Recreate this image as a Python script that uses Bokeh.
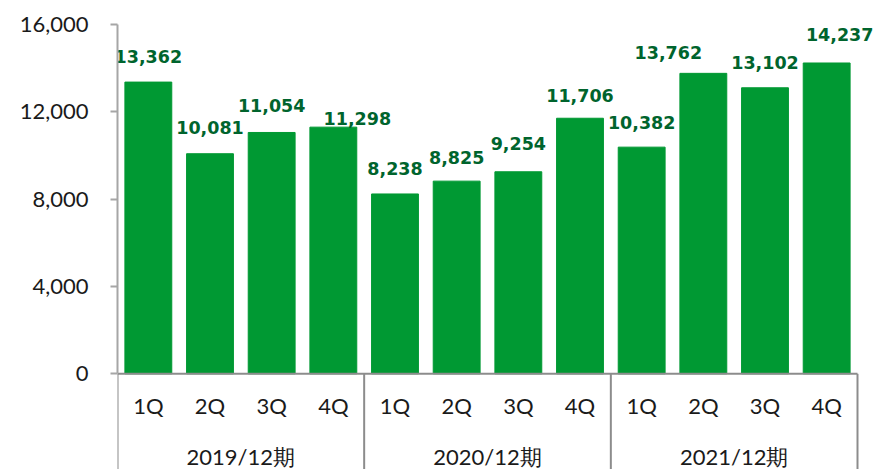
from bokeh.plotting import figure
from bokeh.models import Range1d, FixedTicker, ColumnDataSource, NumeralTickFormatter
from bokeh.core.properties import value
from bokeh.embed import file_html
from bokeh.resources import INLINE

# ---- data ----
years = ["2019/12期", "2020/12期", "2021/12期"]
quarters = ["1Q", "2Q", "3Q", "4Q"]
values = [13362, 10081, 11054, 11298,
          8238, 8825, 9254, 11706,
          10382, 13762, 13102, 14237]
y_ticks = [0, 4000, 8000, 12000, 16000]

# label nudges in screen pixels (styling, kept apart from data)
label_dx = [0, 0, 0, 24, 0, 0, 0, 0, 0, -35, 0, 13]
label_dy = [-26, -26, -27, -9, -25, -24, -28, -23, -25, -21, -25, -28]

# ---- layout ----
W, H = 877, 469
left, top = 117, 24
px_per_unit_y = 349.3 / 16000
frame_h = H - top
y_end = 16000
y_start = y_end - frame_h / px_per_unit_y
n = len(values)
px_per_cat = 740 / n
x_end = (W - left) / px_per_cat

xs = [i + 0.5 for i in range(n)]
qlabels = [quarters[i % len(quarters)] for i in range(n)]
labels = ["{:,}".format(v) for v in values]

src = ColumnDataSource(dict(x=xs, top=values, lab=labels, q=qlabels,
                            dx=label_dx, dy=label_dy))

p = figure(width=W, height=H, output_backend="svg", toolbar_location=None,
           x_range=Range1d(0, x_end), y_range=Range1d(y_start, y_end),
           x_axis_location=None, min_border_left=left, min_border_top=top,
           min_border_right=0, min_border_bottom=0)
p.outline_line_color = None
p.xgrid.visible = False
p.ygrid.visible = False
p.background_fill_color = "white"
p.border_fill_color = "white"

p.vbar(x="x", top="top", bottom=0, width=0.76, source=src,
       fill_color="#009933", line_color="#009933")

p.text(x="x", y="top", text="lab", source=src, x_offset="dx", y_offset="dy",
       text_align="center", text_baseline="middle",
       text_font=value("DejaVu Sans"), text_font_style="bold",
       text_font_size="17.5px", text_color="#00642d")

# category axis drawn as a box
box_color = "#8c8c8c"
p.segment(x0=[0], y0=[0], x1=[n], y1=[0], line_color=box_color, line_width=2)
nq = len(quarters)
seps = [g * nq for g in range(len(years) + 1)]
p.segment(x0=seps, y0=[0] * len(seps), x1=seps, y1=[y_start] * len(seps),
          line_color=box_color, line_width=2)

p.text(x="x", y=0, text="q", source=src, y_offset=32,
       text_align="center", text_baseline="middle",
       text_font=value("Lato"), text_font_size="22px", text_color="#1a1a1a")

ycent = [g * nq + nq / 2 for g in range(len(years))]
p.text(x=ycent, y=[0] * len(years), text=years, y_offset=83,
       text_align="center", text_baseline="middle",
       text_font=value("Lato"), text_font_size="22px", text_color="#1a1a1a")

ax = p.yaxis[0]
ax.ticker = FixedTicker(ticks=y_ticks)
ax.bounds = (0, 16000)
ax.formatter = NumeralTickFormatter(format="0,0")
ax.axis_line_color = "#a6a6a6"
ax.axis_line_width = 2
ax.major_tick_line_color = "#a6a6a6"
ax.major_tick_line_width = 2
ax.major_tick_out = 7
ax.major_tick_in = 0
ax.minor_tick_line_color = None
ax.major_label_standoff = 22
ax.major_label_text_font = "Lato"
ax.major_label_text_font_size = "22px"
ax.major_label_text_color = "#1a1a1a"

open("out.html", "w").write(file_html(p, INLINE))
